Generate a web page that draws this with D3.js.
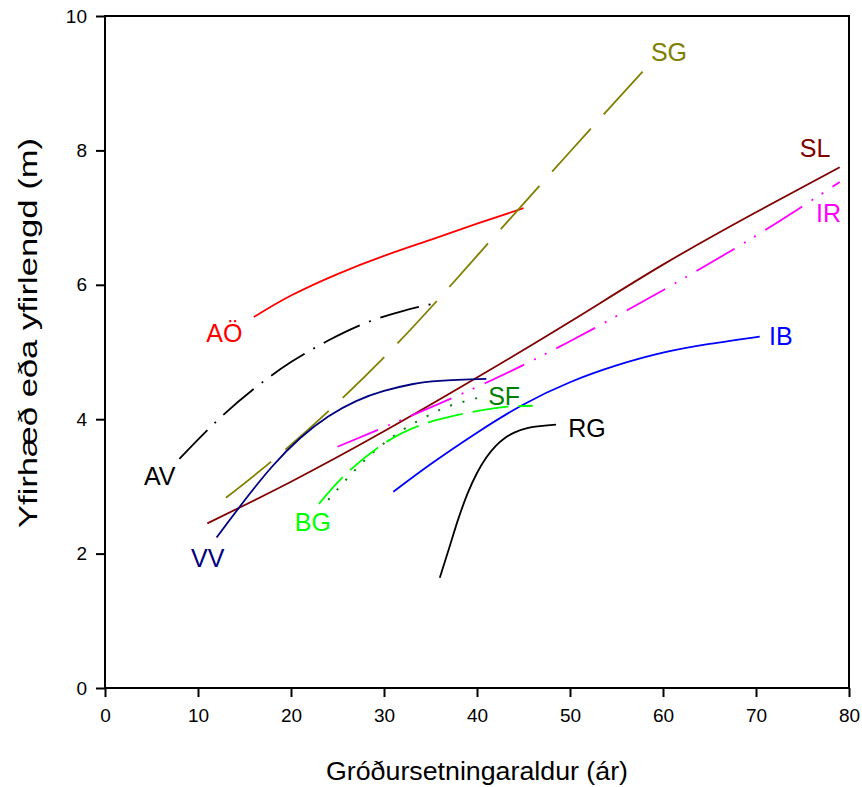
<!DOCTYPE html>
<html>
<head>
<meta charset="utf-8">
<script src="https://cdn.jsdelivr.net/npm/d3@7"></script>
<style>
  html, body { margin: 0; padding: 0; background: #fff; }
  svg { display: block; font-family: Arial, "Liberation Sans", sans-serif; }
</style>
</head>
<body>
<svg id="chart" width="862" height="787"></svg>
<script>
// Growth curves: height or leader length (m) against planting age (years)
const xTicks = [0, 10, 20, 30, 40, 50, 60, 70, 80];
const yTicks = [0, 2, 4, 6, 8, 10];

const seriesAO = [[16, 5.52], [20, 5.84], [25, 6.16], [30, 6.43], [35, 6.67], [40, 6.91], [45, 7.14]];
const seriesAV = [[8, 3.41], [12, 3.97], [16, 4.45], [20, 4.85], [24, 5.17], [28, 5.43], [32, 5.61], [36, 5.74]];
const seriesSG = [[13, 2.83], [20, 3.62], [30, 4.92], [40, 6.43], [50, 7.98], [58, 9.2]];
const seriesSL = [[11, 2.45], [20, 3.07], [30, 3.82], [40, 4.62], [50, 5.45], [60, 6.3], [70, 7.08], [79, 7.75]];
const seriesIR = [[25, 3.59], [30, 3.88], [40, 4.48], [50, 5.16], [60, 5.92], [70, 6.73], [79, 7.53]];
const seriesIB = [[31, 2.92], [35, 3.33], [40, 3.8], [45, 4.22], [50, 4.55], [55, 4.8], [60, 4.99], [65, 5.12], [70.4, 5.23]];
const seriesVV = [[12, 2.24], [15, 2.79], [18, 3.3], [21, 3.72], [24, 4.04], [27, 4.27], [30, 4.42], [33, 4.52], [36, 4.57], [41, 4.6]];
const seriesRG = [[36, 1.64], [37, 2.08], [38, 2.52], [39, 2.9], [40, 3.2], [41, 3.43], [42, 3.6], [43, 3.72], [44, 3.8], [45.5, 3.87], [48.5, 3.92]];
const seriesSF = [[24, 2.8], [26, 3.11], [28, 3.4], [30, 3.64], [32, 3.84], [34, 4.0], [36, 4.14], [38, 4.24], [40.5, 4.33]];
const seriesBG = [[23, 2.74], [25.8, 3.17], [29.9, 3.63], [33.9, 3.91], [37.8, 4.06], [42.2, 4.17], [46, 4.2]];

const seriesNames = ["AÖ", "AV", "SG", "SL", "IR", "IB", "VV", "RG", "SF", "BG"];
// label anchor (x in years, y in m) for each curve name
const labelX = [10.9, 4.2, 58.7, 74.7, 76.45, 71.4, 9.25, 49.8, 41.2, 20.4];
const labelY = [5.15, 3.02, 9.33, 7.9, 6.93, 5.1, 1.8, 3.73, 4.21, 2.34];

const xTitle = "Gróðursetningaraldur (ár)";
const yTitle = "Yfirhæð eða yfirlengd (m)";

const styles = {
  "AÖ": { color: "#ff0000", dash: null },
  "AV": { color: "#000000", dash: "40,10,2,10" },
  "SG": { color: "#808000", dash: "58,19" },
  "SL": { color: "#800000", dash: null },
  "IR": { color: "#ff00ff", dash: "44,11,2,10,2,11" },
  "IB": { color: "#0000ff", dash: null },
  "VV": { color: "#000080", dash: null },
  "RG": { color: "#000000", dash: null },
  "SF": { color: "#008000", dash: "2,11" },
  "BG": { color: "#00ff00", dash: "36,10" }
};
const seriesData = [seriesAO, seriesAV, seriesSG, seriesSL, seriesIR, seriesIB, seriesVV, seriesRG, seriesSF, seriesBG];

const svg = d3.select("#chart");
const margin = { left: 105, right: 13, top: 16, bottom: 99 };
const W = 862, H = 787;

const x = d3.scaleLinear().domain([0, 80]).range([margin.left, W - margin.right]);
const y = d3.scaleLinear().domain([0, 10]).range([H - margin.bottom, margin.top]);

const smoothLine = d3.line()
  .x(d => x(d[0]))
  .y(d => y(d[1]))
  .curve(d3.curveNatural);
const steepLine = d3.line()
  .x(d => x(d[0]))
  .y(d => y(d[1]))
  .curve(d3.curveMonotoneX);

// curves
const g = svg.append("g");
seriesNames.forEach((name, i) => {
  const s = styles[name];
  g.append("path")
    .datum(seriesData[i])
    .attr("fill", "none")
    .attr("stroke", s.color)
    .attr("stroke-width", name === "SF" ? 2 : 1.8)
    .attr("stroke-dasharray", s.dash)
    .attr("d", name === "RG" ? steepLine : smoothLine);
});

// curve labels
seriesNames.forEach((name, i) => {
  svg.append("text")
    .attr("x", x(labelX[i]))
    .attr("y", y(labelY[i]))
    .attr("fill", styles[name].color)
    .attr("font-size", 25)
    .text(name);
});

// frame
svg.append("rect")
  .attr("x", x(0)).attr("y", y(10))
  .attr("width", x(80) - x(0)).attr("height", y(0) - y(10))
  .attr("fill", "none").attr("stroke", "#000").attr("stroke-width", 2);

// axes
const xAxis = svg.append("g")
  .attr("transform", `translate(0,${y(0)})`)
  .call(d3.axisBottom(x).tickValues(xTicks).tickSize(9).tickPadding(12).tickFormat(d3.format("d")));
const yAxis = svg.append("g")
  .attr("transform", `translate(${x(0)},0)`)
  .call(d3.axisLeft(y).tickValues(yTicks).tickSize(9).tickPadding(9).tickFormat(d3.format("d")));

[xAxis, yAxis].forEach(a => {
  a.select(".domain").remove();
  a.selectAll(".tick line").attr("stroke", "#000").attr("stroke-width", 2);
  a.selectAll(".tick text").attr("fill", "#000").attr("font-size", 19)
    .attr("font-family", "Arial, 'Liberation Sans', sans-serif");
});

// axis titles
svg.append("text")
  .attr("x", (x(0) + x(80)) / 2)
  .attr("y", 780)
  .attr("text-anchor", "middle")
  .attr("font-size", 25)
  .attr("fill", "#000")
  .attr("textLength", 302)
  .attr("lengthAdjust", "spacingAndGlyphs")
  .text(xTitle);

svg.append("text")
  .attr("transform", `translate(37,333) rotate(-90)`)
  .attr("text-anchor", "middle")
  .attr("font-size", 25)
  .attr("fill", "#000")
  .attr("textLength", 390)
  .attr("lengthAdjust", "spacingAndGlyphs")
  .text(yTitle);
</script>
</body>
</html>
